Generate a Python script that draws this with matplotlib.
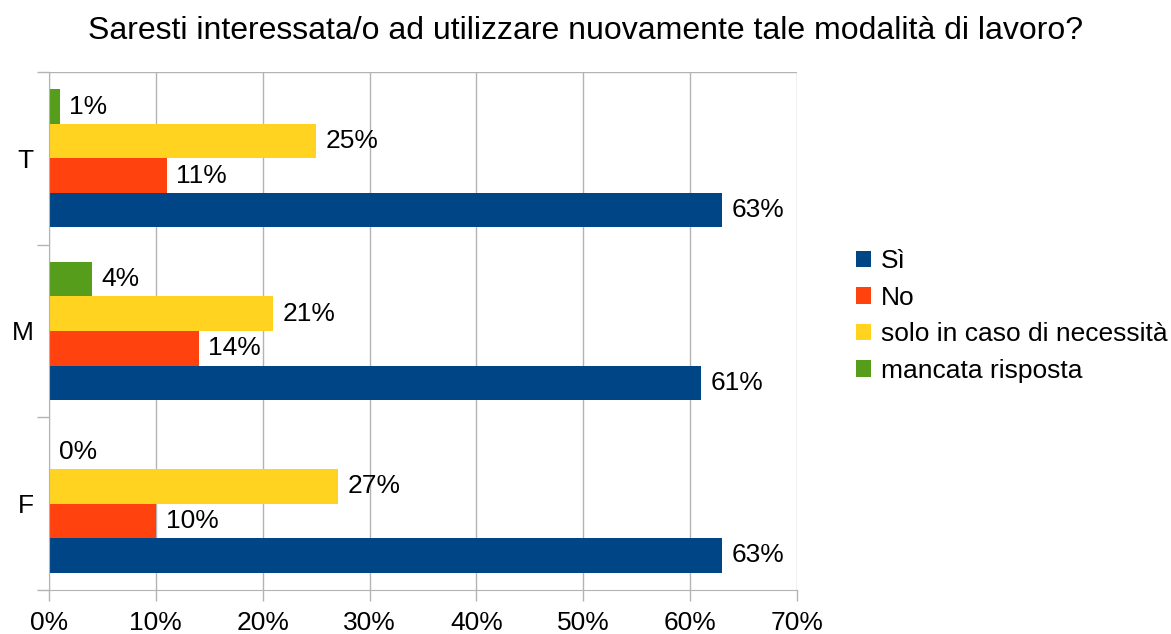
import matplotlib

matplotlib.use("Agg")

import matplotlib.pyplot as plt
import numpy as np
from matplotlib.patches import Patch

categories = ["F", "M", "T"]
series_names = ["Sì", "No", "solo in caso di necessità", "mancata risposta"]
si_vals = [63, 61, 63]
no_vals = [10, 14, 11]
solo_vals = [27, 21, 25]
mancata_vals = [0, 4, 1]
colors = ["#004586", "#ff420e", "#ffd320", "#579d1c"]
x_ticks = [0, 10, 20, 30, 40, 50, 60, 70]
title = "Saresti interessata/o ad utilizzare nuovamente tale modalità di lavoro?"

plt.rcParams["font.family"] = ["Liberation Sans", "DejaVu Sans"]
grey = "#b3b3b3"
fs = 19

fig = plt.figure(figsize=(11.71, 6.34), dpi=100)
ax = fig.add_axes([49 / 1171, 1 - 590 / 634, (797 - 49) / 1171, (590 - 72) / 634])

y = np.arange(len(categories))
bar_h = 0.2
all_vals = [si_vals, no_vals, solo_vals, mancata_vals]
for i, (vals, color, name) in enumerate(zip(all_vals, colors, series_names)):
    pos = y - 0.3 + i * bar_h
    bars = ax.barh(pos, vals, height=bar_h, color=color, label=name, zorder=2)
    ax.bar_label(bars, labels=[f"{v}%" for v in vals], padding=7, fontsize=fs, color="#000000")

ax.set_xlim(0, 70)
ax.set_ylim(-0.5, len(categories) - 0.5)
ax.set_xticks(x_ticks)
ax.set_xticklabels([f"{t}%" for t in x_ticks], fontsize=fs)
ax.set_yticks(np.arange(len(categories) + 1) - 0.5)
ax.set_yticklabels([])
ax.set_yticks(y, minor=True)
ax.set_yticklabels(categories, minor=True, fontsize=fs)
ax.tick_params(axis="y", which="minor", length=0, pad=11)
ax.tick_params(axis="y", which="major", length=9, color=grey, width=1)
ax.tick_params(axis="x", length=8, color=grey, width=1, pad=7)
ax.grid(axis="x", color=grey, linewidth=1, zorder=0)
ax.set_axisbelow(True)
for side in ["top", "right"]:
    ax.spines[side].set_visible(False)
for side in ["left", "bottom"]:
    ax.spines[side].set_color(grey)
ax.axhline(len(categories) - 0.5, color=grey, linewidth=1, zorder=0)

handles = [Patch(facecolor=c, edgecolor="none") for c in colors]
fig.legend(handles, series_names, loc="center left", bbox_to_anchor=(845 / 1171, 1 - 316 / 634),
           frameon=False, fontsize=fs, handlelength=0.6, handleheight=0.6, handletextpad=0.35,
           labelspacing=0.47, borderaxespad=0)

fig.suptitle(title, fontsize=23, y=1 - 31 / 634, va="center")

fig.savefig("out.png", dpi=100)
plt.close(fig)
